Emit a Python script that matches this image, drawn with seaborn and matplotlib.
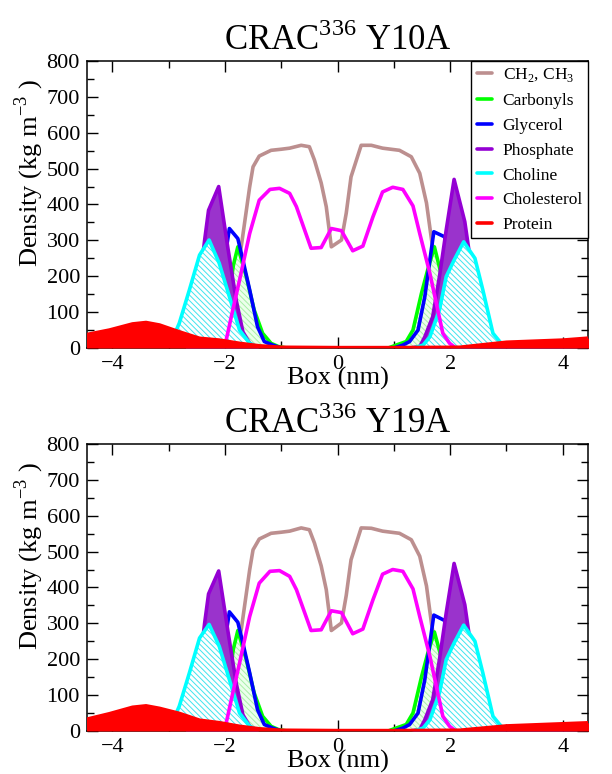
import numpy as np
import pandas as pd
import seaborn as sns
import matplotlib.pyplot as plt

# x positions (nm) of the curve vertices, shared by both panels
ch2_x = [-4.5, -2.4, -2.2, -2.0, -1.85, -1.71, -1.56, -1.5, -1.39, -1.18, -1.0, -0.85, -0.645, -0.5, -0.41,
         -0.29, -0.2, -0.11, 0.07, 0.155, 0.24, 0.42, 0.6, 0.8, 1.1, 1.31, 1.46, 1.58, 1.67, 1.8, 1.95, 2.15, 2.35, 4.5]
carb_x = [-4.5, -2.25, -2.1, -1.95, -1.85, -1.77, -1.62, -1.48, -1.33, -1.18, -1.05, -0.9,
          0.9, 1.04, 1.22, 1.34, 1.49, 1.6, 1.72, 1.85, 2.0, 2.15, 2.3, 4.5]
glyc_x = [-4.5, -2.35, -2.2, -2.05, -1.92, -1.77, -1.68, -1.56, -1.42, -1.3, -1.15, -1.0,
          1.0, 1.16, 1.28, 1.43, 1.55, 1.64, 1.71, 1.9, 2.05, 2.2, 2.35, 4.5]
phos_x = [-4.5, -2.7, -2.55, -2.45, -2.36, -2.29, -2.11, -1.95, -1.8, -1.68, -1.56, -1.4,
          1.3, 1.46, 1.55, 1.69, 1.81, 1.93, 2.07, 2.26, 2.4, 2.55, 2.7, 4.5]
chol_x = [-4.5, -3.0, -2.81, -2.63, -2.45, -2.28, -2.1, -1.92, -1.74, -1.56, -1.4,
          1.35, 1.52, 1.64, 1.81, 1.93, 2.07, 2.24, 2.44, 2.58, 2.76, 2.88, 3.0, 4.5]
cls_x = [-4.5, -2.1, -1.99, -1.95, -1.86, -1.74, -1.56, -1.39, -1.2, -1.03, -0.85, -0.73, -0.47, -0.29,
         -0.11, 0.07, 0.27, 0.45, 0.63, 0.8, 0.98, 1.16, 1.34, 1.46, 1.64, 1.78, 1.87, 1.99, 2.1, 4.5]
prot_x = [-4.5, -4.05, -3.64, -3.4, -3.16, -2.81, -2.45, -2.1, -1.74, -1.39, -1.0, 0.0, 1.0, 2.17, 3.0, 4.0, 4.5]

# Y10A densities (kg m^-3)
ch2_y10 = [0, 0, 25, 100, 180, 282, 449, 505, 535, 551, 554, 557, 565, 561, 524,
           460, 394, 282, 301, 376, 477, 565, 565, 557, 551, 533, 487, 404, 301, 180, 90, 25, 0, 0]
carb_y10 = [0, 0, 30, 120, 230, 282, 199, 106, 41, 13, 4, 0, 0, 8, 18, 50, 152, 217, 282, 200, 80, 15, 0, 0]
glyc_y10 = [0, 0, 60, 200, 333, 305, 245, 162, 59, 18, 8, 0, 0, 8, 18, 50, 143, 245, 324, 310, 200, 60, 10, 0]
phos_y10 = [0, 0, 60, 180, 300, 384, 450, 282, 134, 45, 13, 0, 0, 4, 31, 87, 199, 329, 470, 352, 200, 60, 5, 0]
chol_y10 = [0, 0, 69, 162, 259, 301, 236, 143, 50, 13, 0, 0, 8, 31, 106, 199, 245, 296, 250, 162, 41, 18, 0, 0]
cls_y10 = [0, 0, 14, 41, 106, 189, 319, 412, 442, 445, 431, 394, 278, 280,
           333, 327, 271, 284, 366, 435, 448, 442, 396, 319, 208, 106, 41, 13, 0, 0]
prot_y10 = [36, 50, 67, 71, 64, 45, 27, 22, 13, 6, 2, 1, 1, 2, 16, 22, 28]

# Y19A densities (kg m^-3)
ch2_y19 = [0, 0, 25, 100, 180, 282, 449, 505, 535, 551, 554, 557, 566, 561, 524,
           460, 394, 280, 301, 378, 477, 566, 565, 557, 551, 533, 487, 404, 298, 180, 90, 25, 0, 0]
carb_y19 = [0, 0, 30, 120, 228, 280, 199, 106, 41, 13, 4, 0, 0, 8, 18, 50, 150, 215, 276, 200, 80, 15, 0, 0]
glyc_y19 = [0, 0, 60, 200, 332, 303, 245, 162, 59, 18, 8, 0, 0, 8, 18, 50, 143, 245, 323, 308, 200, 60, 10, 0]
phos_y19 = [0, 0, 60, 180, 300, 382, 446, 282, 134, 45, 13, 0, 0, 4, 31, 87, 199, 329, 467, 352, 200, 60, 5, 0]
chol_y19 = [0, 0, 69, 162, 259, 297, 236, 143, 50, 13, 0, 0, 8, 31, 106, 199, 245, 295, 250, 162, 41, 18, 0, 0]
cls_y19 = [0, 0, 14, 41, 106, 189, 319, 412, 445, 447, 431, 394, 280, 282,
           335, 330, 271, 284, 366, 437, 450, 445, 396, 319, 208, 106, 41, 13, 0, 0]
prot_y19 = [31, 48, 66, 70, 63, 49, 30, 23, 13, 6, 2, 1, 1, 2, 14, 20, 23]

labels = ["CH$_\\mathregular{2}$, CH$_\\mathregular{3}$", "Carbonyls", "Glycerol",
          "Phosphate", "Choline", "Cholesterol", "Protein"]
colors = ['#bc8f8f', '#00ff00', '#0000ff', '#9400d3', '#00ffff', '#ff00ff', '#ff0000']
xs = [ch2_x, carb_x, glyc_x, phos_x, chol_x, cls_x, prot_x]

# fill style per group (None = line only)
fills = [None,
         dict(facecolor='#ecffec', edgecolor='#a8f0a8', hatch='\\\\\\\\\\\\'),
         None,
         dict(facecolor='#9a33cc', edgecolor='#9a33cc'),
         dict(facecolor='white', edgecolor='#40e4ee', hatch='\\\\\\\\\\\\'),
         None,
         dict(facecolor='#ff0000', edgecolor='#ff0000')]

sns.set_theme(style="ticks")
plt.rcParams['font.family'] = ['Liberation Serif', 'DejaVu Serif']
plt.rcParams['mathtext.fontset'] = 'custom'
plt.rcParams['mathtext.rm'] = 'Liberation Serif'
plt.rcParams['hatch.linewidth'] = 0.7
plt.rcParams['text.color'] = 'black'
plt.rcParams['axes.labelcolor'] = 'black'


def draw_panel(ax, ys, title, legend=False):
    z = 2
    for x, y, lab, c, f in zip(xs, ys, labels, colors, fills):
        if f is not None:
            ax.fill_between(x, y, 0, linewidth=0, zorder=z, **f)
        sns.lineplot(x=x, y=y, ax=ax, color=c, lw=2.6, sort=False, estimator=None,
                     label=lab, legend=False, zorder=z + 0.5)
        z += 1
    ax.set_xlim(-4.45, 4.45)
    ax.set_ylim(0, 800)
    ax.set_xticks([-4, -2, 0, 2, 4])
    ax.set_xticks([-3, -1, 1, 3], minor=True)
    ax.set_yticks(np.arange(0, 801, 100))
    ax.set_yticks(np.arange(50, 800, 100), minor=True)
    ax.tick_params(which='both', direction='in', top=True, right=True, colors='black',
                   labelsize=16, width=1)
    ax.tick_params(which='major', length=8, pad=5)
    ax.tick_params(which='minor', length=5)
    for s in ax.spines.values():
        s.set_color('black')
        s.set_linewidth(1.1)
    ax.set_title(title, fontsize=25, pad=8)
    ax.set_xlabel("Box (nm)", fontsize=19, labelpad=-5)
    ax.set_ylabel("Density (kg m$^{\\mathregular{-3}}$ )", fontsize=19)
    ax.yaxis.set_label_coords(-0.082, 0.61)
    if legend:
        lines = ax.get_lines()
        leg = ax.legend(lines, labels, loc='upper right', borderaxespad=0, fontsize=12.5,
                        handlelength=0.9, handletextpad=0.6, labelspacing=0.5,
                        borderpad=0.3, fancybox=False, framealpha=1)
        leg.get_frame().set_edgecolor('black')
        leg.get_frame().set_linewidth(1.0)
        leg.set_zorder(20)


fig = plt.figure(figsize=(6.12, 7.74), dpi=100)
ax1 = fig.add_axes([0.142, 0.5504, 0.819, 0.3708])
ax2 = fig.add_axes([0.142, 0.0556, 0.819, 0.3708])

draw_panel(ax1, [ch2_y10, carb_y10, glyc_y10, phos_y10, chol_y10, cls_y10, prot_y10],
           "CRAC$^{\\mathregular{336}}$ Y10A", legend=True)
draw_panel(ax2, [ch2_y19, carb_y19, glyc_y19, phos_y19, chol_y19, cls_y19, prot_y19],
           "CRAC$^{\\mathregular{336}}$ Y19A")

fig.savefig("out.png", dpi=100)
